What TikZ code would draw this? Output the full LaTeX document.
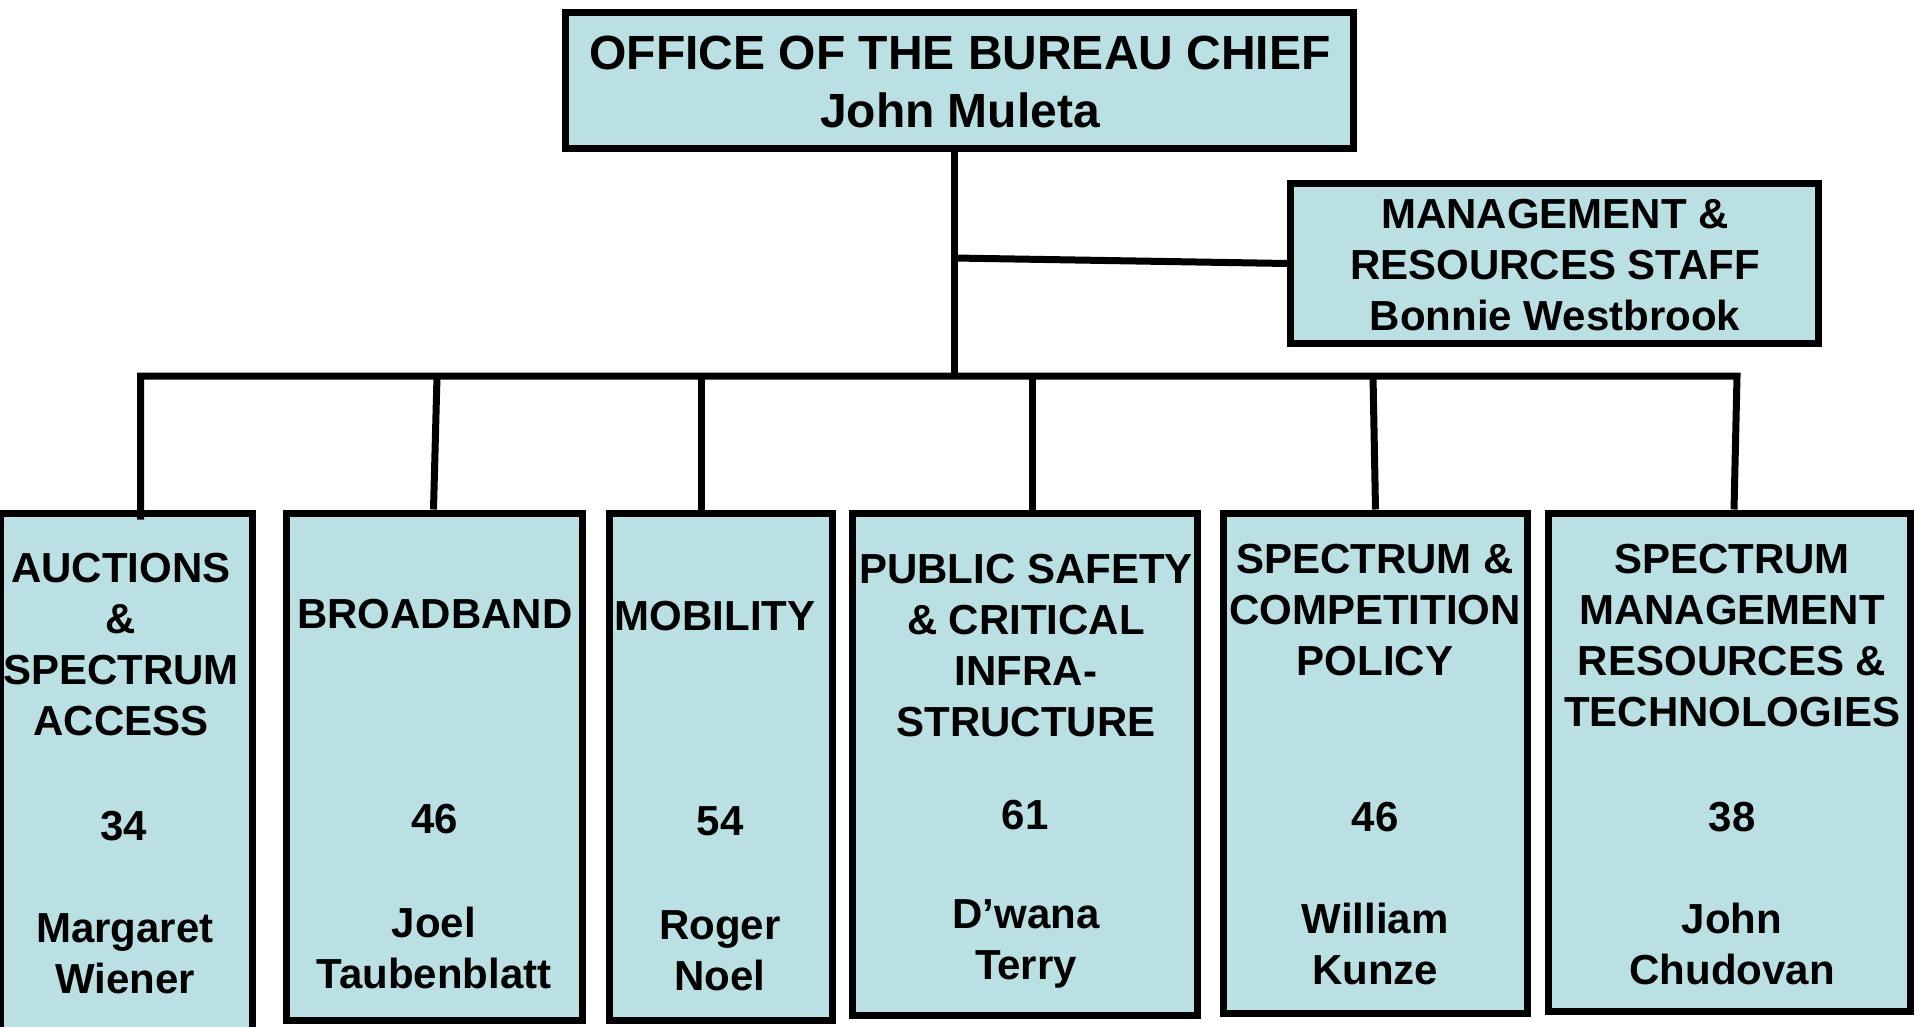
\documentclass[tikz,border=0pt]{standalone}
\usepackage{fontspec}
\setmainfont{Liberation Sans}
\usepackage{tikz}
\usetikzlibrary{calc}
\definecolor{boxfill}{RGB}{187,224,227}
\newcommand{\boxcolor}{boxfill}
\newcommand{\linew}{3.5pt}
\newcommand{\pix}{0.5pt}
\tikzset{
unit/.style={draw, fill=\boxcolor, line width=\linew, inner sep=0},
txt/.style={anchor=north, inner sep=0, align=center, font=\bfseries\fontsize{21pt}{25.5pt}\selectfont},
link/.style={line width=\linew, line join=miter}
}
\begin{document}
\begin{tikzpicture}[x=0.5pt,y=-0.5pt]
\useasboundingbox (0,0) rectangle (1915,1027);
\clip (0,0) rectangle (1915,1027);
\fill[white] (0,0) rectangle (1915,1027);
%top
\node[unit, line width=3.75pt, minimum width=788*\pix, minimum height=136*\pix] (1) at (959.5,80.5) {};
\node[txt, font=\bfseries\fontsize{24pt}{29.25pt}\selectfont] (1a) at (960,35.5) {OFFICE OF THE BUREAU CHIEF\\John Muleta};
%staff
\node[unit, minimum width=528*\pix, minimum height=160*\pix] (2) at (1554.5,263.5) {};
\node[txt] (2a) at (1555,199) {MANAGEMENT \&\\RESOURCES STAFF\\Bonnie Westbrook};
%divisions
\node[unit, minimum width=252*\pix, minimum height=527*\pix] (3) at (126,776.5) {};
\node[unit, minimum width=296*\pix, minimum height=507.5*\pix] (4) at (434.5,766.75) {};
\node[unit, minimum width=223*\pix, minimum height=507.5*\pix] (5) at (721,766.75) {};
\node[unit, minimum width=345*\pix, minimum height=502.5*\pix] (6) at (1025,764.25) {};
\node[unit, minimum width=304*\pix, minimum height=500.5*\pix] (7) at (1375.5,763.25) {};
\node[unit, minimum width=362*\pix, minimum height=498.5*\pix] (8) at (1729.5,762.25) {};
%3
\node[txt] (3a) at (121,553) {AUCTIONS\\\&\\SPECTRUM\\ACCESS};
\node[txt] (3b) at (124,811) {34};
\node[txt] (3c) at (125,913) {Margaret\\Wiener};
%4
\node[txt] (4a) at (435,599) {BROADBAND};
\node[txt] (4b) at (435,804) {46};
\node[txt] (4c) at (434,907) {Joel\\Taubenblatt};
%5
\node[txt] (5a) at (715,601) {MOBILITY};
\node[txt] (5b) at (720,806) {54};
\node[txt] (5c) at (720,910) {Roger\\Noel};
%6
\node[txt] (6a) at (1026,554) {PUBLIC SAFETY\\\& CRITICAL\\INFRA-\\STRUCTURE};
\node[txt] (6b) at (1025,800) {61};
\node[txt] (6c) at (1026,899) {D’wana\\Terry};
%7
\node[txt] (7a) at (1375,544) {SPECTRUM \&\\COMPETITION\\POLICY};
\node[txt] (7b) at (1375,802) {46};
\node[txt] (7c) at (1375,903) {William\\Kunze};
%8
\node[txt] (8a) at (1732,544) {SPECTRUM\\MANAGEMENT\\RESOURCES \&\\TECHNOLOGIES};
\node[txt] (8b) at (1732,802) {38};
\node[txt] (8c) at (1732,903) {John\\Chudovan};
%lines
\coordinate (j0) at (954,376);
\coordinate (jm) at (954,258);
\coordinate (j3) at (140.5,376);
\coordinate (j4) at (437,376);
\coordinate (j5) at (701,376);
\coordinate (j6) at (1032,376);
\coordinate (j7) at (1373,376);
\coordinate (j8) at (1737,376);
\draw[link] (j0 |- 1.south) -- (j0);
\draw[link] (jm) -- (2.west);
\draw[link] ($(j3 |- 3.north)+(0,10)$) -- (j3) -- (j8) -- ($(8.north)+(4.5,0)$);
\draw[link] (j4) -- ($(4.north)+(-1,0)$);
\draw[link] (j5) -- (j5 |- 5.north);
\draw[link] (j6) -- (j6 |- 6.north);
\draw[link] (j7) -- (7.north);
\end{tikzpicture}
\end{document}
